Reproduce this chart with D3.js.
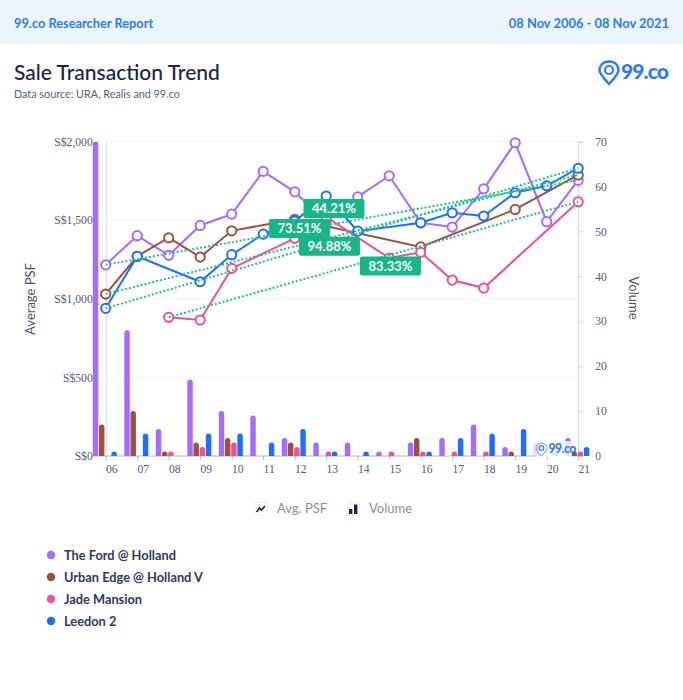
<!DOCTYPE html>
<html>
<head>
<meta charset="utf-8">
<script src="https://cdn.jsdelivr.net/npm/d3@7"></script>
<style>
body { margin: 0; background: #fff; }
text { font-family: Lato, sans-serif; }
.tick text { font-family: "Liberation Serif", serif; font-size: 11.6px; fill: #55587c; }
</style>
</head>
<body>
<svg width="683" height="700"></svg>
<script>
var width = 683;
var height = 700;
var plot = {left: 105.7, right: 578.2, top: 141.5, bottom: 456};
var blue = '#2b7bff';

//Dados
var years = ['06','07','08','09','10','11','12','13','14','15','16','17','18','19','20','21'];
var series = [
  {name: 'The Ford @ Holland', color: '#a56bff', growth: '44.21%', dx: -8, dy: -14,
   psf: [1216,1401,1276,1466,1538,1810,1680,1488,1648,1782,1483,1456,1699,1992,1490,1754],
   vol: [70,28,6,17,10,9,4,3,3,1,3,4,7,2,3,4]},
  {name: 'Urban Edge @ Holland V', color: '#9b5044', growth: '73.51%', dx: -42.5, dy: -6,
   psf: [1030,1270,1388,1265,1432,null,1505,null,null,null,1330,null,null,1568,null,1787],
   vol: [7,10,1,3,4,0,3,0,0,0,4,0,0,1,0,1]},
  {name: 'Jade Mansion', color: '#ee4f97', growth: '83.33%', dx: 17, dy: 6.5,
   psf: [null,null,882,865,1193,null,1384,1520,null,1259,1295,1119,1068,null,null,1617],
   vol: [0,0,1,2,3,0,2,1,0,1,1,1,1,0,0,1]},
  {name: 'Leedon 2', color: '#1f6fff', growth: '94.88%', dx: -12.5, dy: 8,
   psf: [939,1270,null,1108,1280,1411,1494,1653,1430,null,1483,1547,1526,1674,1718,1830],
   vol: [1,5,0,5,5,3,6,1,1,0,1,4,5,6,1,2]}
];

var mySVG = d3.select('svg');

//Escalas
var xScale = d3.scalePoint().domain(years).range([plot.left, plot.right]);
var yPsf = d3.scaleLinear().domain([0, 2000]).range([plot.bottom, plot.top]);
var yVol = d3.scaleLinear().domain([0, 70]).range([plot.bottom, plot.top]);
var barScale = d3.scaleBand().domain(series.map(d => d.name)).range([-12.9, 11.1]).paddingInner(0.12);

//Header
mySVG.append('rect').attr('width', width).attr('height', 44).attr('fill', '#eef4fe');
mySVG.append('text').text('99.co Researcher Report')
  .attr('x', 14).attr('y', 27.5).attr('font-size', 12.8).attr('font-weight', 700).attr('fill', blue);
mySVG.append('text').text('08 Nov 2006 - 08 Nov 2021')
  .attr('x', 669).attr('y', 27.5).attr('text-anchor', 'end')
  .attr('font-size', 12.9).attr('font-weight', 700).attr('fill', blue);
mySVG.append('text').text('Sale Transaction Trend')
  .attr('x', 14).attr('y', 80).attr('font-size', 21).attr('font-weight', 500).attr('fill', '#1d2148');
mySVG.append('text').text('Data source: URA, Realis and 99.co')
  .attr('x', 14).attr('y', 98).attr('font-size', 10.8).attr('fill', '#5a5e78');

function drawLogo(g, s) {
  g.append('path')
    .attr('d', 'M0,-11 C6.5,-11 9.5,-6.5 9.5,-2.5 C9.5,2 4,7 0,11.5 C-4,7 -9.5,2 -9.5,-2.5 C-9.5,-6.5 -6.5,-11 0,-11 Z')
    .attr('fill', 'none').attr('stroke', blue).attr('stroke-width', 2.4 * s)
    .attr('transform', 'scale(' + s + ')');
  g.append('circle').attr('cy', -2.5 * s).attr('r', 4 * s)
    .attr('fill', 'none').attr('stroke', blue).attr('stroke-width', 2.2 * s);
  g.append('text').text('99.co').attr('x', 12 * s).attr('y', 6.5 * s)
    .attr('font-size', 21 * s).attr('font-weight', 900).attr('letter-spacing', -0.9 * s).attr('fill', blue);
}
drawLogo(mySVG.append('g').attr('transform', 'translate(609,72.5)'), 1);

//Grid
mySVG.append('g').selectAll('line').data(yPsf.ticks(4)).enter().append('line')
  .attr('x1', plot.left).attr('x2', plot.right)
  .attr('y1', d => yPsf(d)).attr('y2', d => yPsf(d))
  .attr('stroke', '#f4f5f8');

//Eixos
var leftAxis = mySVG.append('g')
  .attr('transform', 'translate(' + plot.left + ',0)')
  .call(d3.axisLeft(yPsf).ticks(4).tickSize(0).tickPadding(13).tickFormat(d => 'S$' + d3.format(',')(d)));
leftAxis.select('.domain').attr('stroke', '#d8d9de');

var rightAxis = mySVG.append('g')
  .attr('transform', 'translate(' + plot.right + ',0)')
  .call(d3.axisRight(yVol).ticks(7).tickSize(5).tickSizeOuter(5).tickPadding(12));
rightAxis.selectAll('line').attr('stroke', '#d0d2da');
rightAxis.select('.domain').attr('stroke', '#d0d2da');

var xAxis = mySVG.append('g')
  .attr('transform', 'translate(0,' + plot.bottom + ')')
  .call(d3.axisBottom(xScale).tickSize(4).tickSizeOuter(0).tickPadding(5));
xAxis.select('.domain').attr('d', 'M93,0H583').attr('stroke', '#b4b7c2').attr('stroke-width', 1.2);
xAxis.selectAll('line').attr('stroke', '#b4b7c2');
xAxis.selectAll('text').attr('dx', 5.5);

mySVG.append('text').text('Average PSF')
  .attr('transform', 'translate(35,299) rotate(-90)').attr('text-anchor', 'middle')
  .attr('font-size', 13).attr('fill', '#4a4e78');
mySVG.append('text').text('Volume')
  .attr('transform', 'translate(629,298) rotate(90)').attr('text-anchor', 'middle')
  .attr('font-size', 13).attr('fill', '#4a4e78');

//Barras
series.forEach(function(s) {
  mySVG.append('g').selectAll('path')
    .data(years.map((y, i) => ({year: y, v: s.vol[i]})).filter(d => d.v > 0))
    .enter().append('path')
    .attr('fill', s.color)
    .attr('d', function(d) {
      var x0 = xScale(d.year) + barScale(s.name);
      var w = barScale.bandwidth();
      var y0 = yVol(d.v);
      return 'M' + x0 + ',' + plot.bottom + 'V' + (y0 + 2.5) + 'Q' + x0 + ',' + y0 + ' ' + (x0 + w / 2) + ',' + y0 +
        'Q' + (x0 + w) + ',' + y0 + ' ' + (x0 + w) + ',' + (y0 + 2.5) + 'V' + plot.bottom + 'Z';
    });
});

//Watermark
var mark = mySVG.append('g');
mark.append('rect').attr('x', 534).attr('y', 441).attr('width', 38).attr('height', 16).attr('rx', 2)
  .attr('fill', '#fff').attr('opacity', 0.8);
drawLogo(mark.append('g').attr('transform', 'translate(541.5,449.5)'), 0.58);

//Linhas
var line = d3.line().x(d => xScale(d.year)).y(d => yPsf(d.v));
series.forEach(function(s) {
  s.points = years.map((y, i) => ({year: y, v: s.psf[i]})).filter(d => d.v != null);
  mySVG.append('path').datum(s.points)
    .attr('d', line).attr('fill', 'none').attr('stroke', s.color).attr('stroke-width', 2);
  mySVG.append('g').selectAll('circle').data(s.points).enter().append('circle')
    .attr('cx', d => xScale(d.year)).attr('cy', d => yPsf(d.v)).attr('r', 4.6)
    .attr('fill', '#fff').attr('stroke', s.color).attr('stroke-width', 2);
});

//Tendencia: primeiro ate ultimo ponto
series.forEach(function(s) {
  var ends = [s.points[0], s.points[s.points.length - 1]];
  mySVG.append('path').datum(ends)
    .attr('d', line).attr('fill', 'none').attr('stroke', '#1fbf8f')
    .attr('stroke-width', 2).attr('stroke-dasharray', '2 2');
});
['The Ford @ Holland', 'Leedon 2', 'Urban Edge @ Holland V', 'Jade Mansion'].forEach(function(name) {
  var s = series.find(d => d.name == name);
  var a = s.points[0], b = s.points[s.points.length - 1];
  var cx = (xScale(a.year) + xScale(b.year)) / 2 + s.dx;
  var cy = (yPsf(a.v) + yPsf(b.v)) / 2 + s.dy;
  mySVG.append('rect').attr('x', cx - 30.5).attr('y', cy - 9.5).attr('width', 61).attr('height', 19).attr('rx', 2)
    .attr('fill', '#17b686');
  mySVG.append('text').text(s.growth).attr('x', cx).attr('y', cy + 4.5).attr('text-anchor', 'middle')
    .attr('font-size', 13).attr('font-weight', 700).attr('fill', '#fff');
});

//Legenda
var iconLine = mySVG.append('g').attr('transform', 'translate(254,502)');
iconLine.append('rect').attr('x', 0.5).attr('y', 0.5).attr('width', 13).attr('height', 13).attr('rx', 2)
  .attr('fill', '#fff').attr('stroke', '#eceef3');
iconLine.append('path').attr('d', 'M2.5,10 L5.5,6 L7.5,8 L11,4')
  .attr('fill', 'none').attr('stroke', '#1d2148').attr('stroke-width', 1.6);
mySVG.append('text').text('Avg. PSF').attr('x', 277).attr('y', 513).attr('font-size', 13).attr('fill', '#8a8ca8');

var iconBar = mySVG.append('g').attr('transform', 'translate(346,502)');
iconBar.append('rect').attr('x', 0.5).attr('y', 0.5).attr('width', 13).attr('height', 13).attr('rx', 2)
  .attr('fill', '#fff').attr('stroke', '#eceef3');
iconBar.append('rect').attr('x', 3).attr('y', 7).attr('width', 3.4).attr('height', 5).attr('fill', '#1d2148');
iconBar.append('rect').attr('x', 8).attr('y', 2.5).attr('width', 3.4).attr('height', 9.5).attr('fill', '#1d2148');
mySVG.append('text').text('Volume').attr('x', 369).attr('y', 513).attr('font-size', 13).attr('fill', '#8a8ca8');

var legend = mySVG.append('g').selectAll('g').data(series).enter().append('g')
  .attr('transform', (d, i) => 'translate(51,' + (555 + i * 22) + ')');
legend.append('circle').attr('r', 4.2).attr('fill', d => d.color);
legend.append('text').text(d => d.name).attr('x', 13).attr('y', 4.5)
  .attr('font-size', 12.8).attr('font-weight', 700).attr('fill', '#33355f');
</script>
</body>
</html>
